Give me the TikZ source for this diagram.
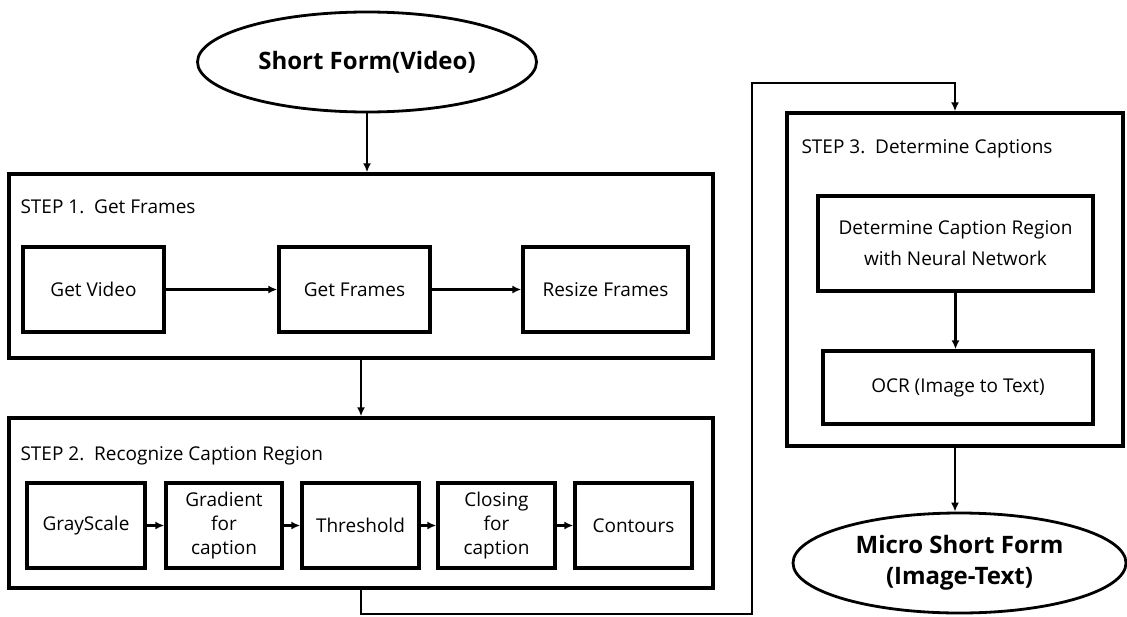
\documentclass[tikz,border=0pt]{standalone}
\usepackage{fontspec}
\setmainfont{Open Sans}
\usetikzlibrary{arrows.meta,shapes.geometric}

\begin{document}
\begin{tikzpicture}[
    x=1pt,
    y=-1pt,
    font=\fontsize{19}{24}\selectfont,
    arrow/.style={-{Latex[length=9pt,width=8pt]}, draw=black, line width=2.4pt},
    frame/.style={draw=black, line width=3.4pt, inner sep=0pt},
    card/.style={
        draw=black,
        line width=3.4pt,
        align=center,
        inner sep=0pt
    },
    terminal/.style={
        ellipse,
        draw=black,
        line width=2.8pt,
        align=center,
        inner sep=0pt,
        font=\fontsize{24}{31}\selectfont\bfseries
    },
    steptitle/.style={anchor=west, font=\fontsize{19}{24}\selectfont}
]
\useasboundingbox (0,0) rectangle (1127,616);

% Input video.
\node[terminal, minimum width=339pt, minimum height=100pt] (source) at (367,62)
    {Short Form(Video)};

% Step 1.
\node[frame, minimum width=704pt, minimum height=184pt] (step1) at (361,266) {};
\node[steptitle] (title1) at (17,207) {STEP 1.\ \ Get Frames};
\node[card, minimum width=141pt, minimum height=85pt] (video) at (93.5,289.5) {Get Video};
\node[card, minimum width=151pt, minimum height=85pt] (frames) at (354.5,289.5) {Get Frames};
\node[card, minimum width=165pt, minimum height=85pt] (resize) at (605.5,289.5) {Resize Frames};

\draw[arrow] (source.south) -- (source.south |- step1.north);
\draw[arrow] (video.east) -- (frames.west);
\draw[arrow] (frames.east) -- (resize.west);

% Step 2.
\node[frame, minimum width=704pt, minimum height=170pt] (step2) at (361,503) {};
\node[steptitle] (title2) at (17,456) {STEP 2.\ \ Recognize Caption Region};
\node[card, minimum width=118pt, minimum height=85pt] (gray) at (86,525.5) {GrayScale};
\node[card, minimum width=116pt, minimum height=85pt] (gradient) at (224,525.5) {Gradient\\for\\caption};
\node[card, minimum width=117pt, minimum height=85pt] (threshold) at (360.5,525.5) {Threshold};
\node[card, minimum width=117pt, minimum height=85pt] (closing) at (496.5,525.5) {Closing\\for\\caption};
\node[card, minimum width=117pt, minimum height=85pt] (contours) at (633.5,525.5) {Contours};

\draw[arrow] (step1.south) -- (step2.north);
\draw[arrow] (gray.east) -- (gradient.west);
\draw[arrow] (gradient.east) -- (threshold.west);
\draw[arrow] (threshold.east) -- (closing.west);
\draw[arrow] (closing.east) -- (contours.west);

% Step 3.
\node[frame, minimum width=336pt, minimum height=333pt] (step3) at (955,279.5) {};
\node[steptitle] (title3) at (798,149) {STEP 3.\ \ Determine Captions};
\node[card, minimum width=275pt, minimum height=95pt, font=\fontsize{19}{31}\selectfont]
    (region) at (955.5,243.5) {Determine Caption Region\\with Neural Network};
\node[card, minimum width=270pt, minimum height=73pt] (ocr) at (958,387.5) {OCR (Image to Text)};

\draw[arrow] (region.south) -- (region.south |- ocr.north);

% Route from step 2 round to step 3.
\coordinate (low) at (752,614);
\coordinate (high) at (752,83);
\draw[arrow] (step2.south) |- (low) -- (high) -| (step3.north);

% Output.
\node[terminal, minimum width=333pt, minimum height=100pt] (output) at (959.5,563)
    {Micro Short Form\\(Image-Text)};
\draw[arrow] (step3.south) -- (step3.south |- output.north);

\end{tikzpicture}
\end{document}
